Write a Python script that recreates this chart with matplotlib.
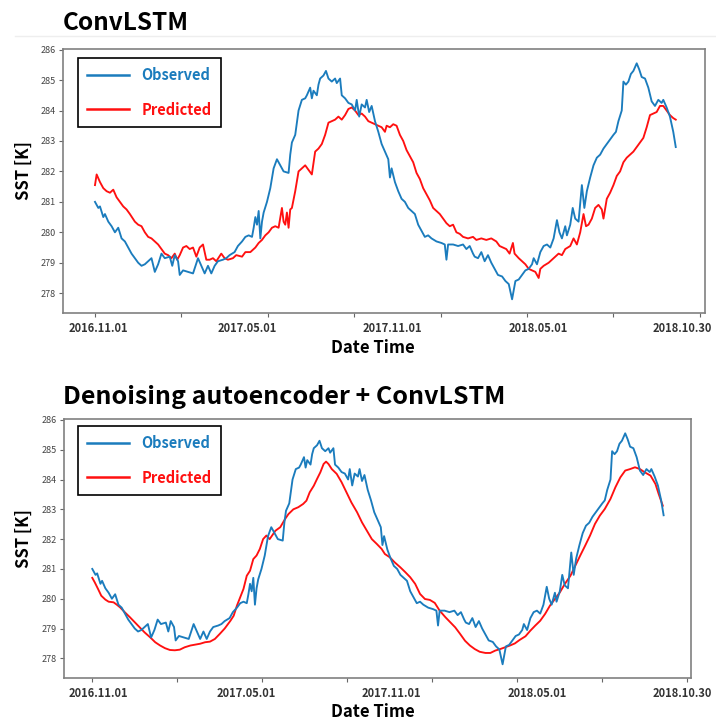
import matplotlib
matplotlib.use('Agg')
import matplotlib.pyplot as plt
from matplotlib.lines import Line2D

plt.rcParams['font.family'] = ['Noto Sans CJK KR', 'DejaVu Sans']

# ---------------- data: (days since 2016-11-01, SST in K) ----------------
observed = [
    (0, 281.0), (4, 280.8), (6, 280.85), (10, 280.5), (12, 280.6), (16, 280.35), (20, 280.2),
    (24, 280.0), (28, 280.15), (32, 279.8), (36, 279.7), (40, 279.5), (44, 279.3), (48, 279.15),
    (52, 279.0), (56, 278.9), (60, 278.95), (64, 279.05), (68, 279.15), (72, 278.7), (76, 278.95),
    (80, 279.3), (84, 279.15), (90, 279.2), (93, 278.9), (96, 279.25), (100, 279.05), (102, 278.6),
    (106, 278.75), (112, 278.7), (118, 278.65), (124, 279.15), (128, 278.9), (132, 278.65),
    (136, 278.9), (140, 278.65), (144, 278.9), (148, 279.05), (154, 279.1), (158, 279.15),
    (162, 279.25), (168, 279.35), (172, 279.55), (177, 279.7), (181, 279.85), (185, 279.9),
    (189, 279.85), (191, 280.15), (193, 280.5), (195, 280.25), (197, 280.7), (199, 279.8),
    (201, 280.35), (203, 280.65), (207, 281.0), (211, 281.45), (215, 282.1), (219, 282.4),
    (223, 282.2), (227, 282.0), (233, 281.95), (235, 282.55), (237, 282.95), (241, 283.2),
    (245, 284.0), (249, 284.35), (253, 284.4), (255, 284.5), (259, 284.75), (261, 284.4),
    (263, 284.65), (267, 284.5), (269, 284.85), (271, 285.05), (275, 285.15), (278, 285.3),
    (281, 285.05), (285, 284.95), (289, 285.05), (291, 284.9), (295, 285.05), (297, 284.5),
    (301, 284.4), (305, 284.25), (309, 284.2), (313, 284.0), (315, 284.35), (318, 283.8),
    (321, 284.2), (325, 284.1), (327, 284.35), (330, 283.95), (333, 284.15), (337, 283.65),
    (341, 283.3), (345, 282.9), (349, 282.65), (353, 282.4), (355, 281.8), (357, 282.1),
    (361, 281.65), (365, 281.35), (369, 281.1), (373, 281.0), (377, 280.8), (381, 280.7),
    (385, 280.6), (389, 280.25), (393, 280.05), (397, 279.85), (401, 279.9), (405, 279.8),
    (411, 279.7), (417, 279.65), (421, 279.6), (423, 279.1), (425, 279.6), (431, 279.6),
    (437, 279.55), (443, 279.6), (447, 279.45), (451, 279.55), (455, 279.3), (457, 279.2),
    (461, 279.15), (465, 279.35), (469, 279.05), (473, 279.25), (477, 279.0), (481, 278.8),
    (485, 278.6), (490, 278.55), (494, 278.4), (498, 278.3), (502, 277.8), (506, 278.4),
    (510, 278.45), (514, 278.6), (518, 278.75), (522, 278.8), (526, 278.95), (528, 279.15),
    (532, 278.95), (536, 279.35), (540, 279.55), (544, 279.6), (548, 279.5), (552, 279.8),
    (556, 280.4), (559, 280.0), (562, 279.8), (566, 280.2), (568, 279.9), (572, 280.25),
    (575, 280.8), (578, 280.45), (582, 280.35), (586, 281.55), (589, 280.8), (592, 281.35),
    (596, 281.8), (600, 282.2), (604, 282.45), (608, 282.55), (612, 282.75), (616, 282.9),
    (620, 283.05), (624, 283.2), (627, 283.3), (630, 283.65), (634, 284.0), (636, 284.95),
    (639, 284.85), (642, 284.95), (645, 285.2), (648, 285.3), (652, 285.55), (655, 285.35),
    (658, 285.1), (662, 285.05), (666, 284.75), (670, 284.3), (674, 284.15), (678, 284.35),
    (682, 284.25), (684, 284.35), (688, 284.1), (692, 283.8), (696, 283.3), (699, 282.8),
]

pred_convlstm = [
    (0, 281.55), (2, 281.9), (6, 281.65), (10, 281.45), (14, 281.35), (18, 281.3), (22, 281.4),
    (26, 281.15), (30, 281.0), (34, 280.85), (38, 280.75), (42, 280.6), (48, 280.35),
    (52, 280.25), (56, 280.2), (60, 280.0), (64, 279.85), (68, 279.8), (72, 279.7), (76, 279.6),
    (80, 279.45), (84, 279.3), (88, 279.25), (92, 279.15), (96, 279.3), (99, 279.1),
    (102, 279.25), (106, 279.5), (110, 279.55), (114, 279.45), (118, 279.5), (122, 279.2),
    (126, 279.5), (130, 279.6), (134, 279.1), (138, 279.1), (142, 279.15), (146, 279.05),
    (152, 279.3), (156, 279.15), (160, 279.1), (166, 279.15), (170, 279.25), (177, 279.2),
    (181, 279.35), (187, 279.35), (193, 279.5), (197, 279.65), (201, 279.75), (205, 279.9),
    (209, 280.0), (213, 280.15), (217, 280.2), (221, 280.15), (225, 280.8), (227, 280.35),
    (229, 280.25), (231, 280.65), (233, 280.15), (235, 280.75), (237, 280.8), (241, 281.35),
    (245, 282.0), (249, 282.1), (253, 282.2), (257, 282.05), (261, 281.9), (265, 282.65),
    (269, 282.75), (273, 282.9), (277, 283.2), (281, 283.6), (285, 283.65), (289, 283.7),
    (293, 283.8), (297, 283.7), (301, 283.85), (305, 284.05), (309, 284.1), (313, 284.0),
    (317, 283.85), (321, 283.9), (325, 283.8), (329, 283.65), (333, 283.6), (337, 283.55),
    (341, 283.5), (345, 283.45), (349, 283.3), (351, 283.5), (355, 283.45), (359, 283.55),
    (363, 283.5), (367, 283.2), (371, 283.0), (375, 282.7), (379, 282.5), (383, 282.3),
    (387, 281.95), (391, 281.75), (395, 281.45), (399, 281.25), (403, 281.05), (407, 280.8),
    (411, 280.7), (415, 280.6), (419, 280.45), (423, 280.3), (427, 280.2), (431, 280.25),
    (435, 280.0), (439, 279.95), (443, 279.85), (449, 279.8), (455, 279.85), (459, 279.75),
    (465, 279.8), (471, 279.75), (477, 279.8), (483, 279.7), (487, 279.55), (491, 279.5),
    (495, 279.45), (499, 279.3), (503, 279.65), (505, 279.3), (510, 279.15), (514, 279.05),
    (518, 278.95), (522, 278.8), (526, 278.75), (530, 278.7), (534, 278.5), (536, 278.8),
    (540, 278.9), (546, 279.0), (552, 279.15), (558, 279.3), (562, 279.25), (566, 279.45),
    (572, 279.55), (576, 279.8), (580, 279.6), (584, 280.0), (588, 280.6), (591, 280.2),
    (594, 280.25), (598, 280.45), (602, 280.8), (606, 280.9), (610, 280.75), (612, 280.45),
    (616, 281.1), (620, 281.3), (624, 281.55), (628, 281.85), (632, 282.0), (636, 282.3),
    (640, 282.45), (644, 282.55), (648, 282.65), (652, 282.8), (656, 282.95), (660, 283.1),
    (664, 283.45), (668, 283.85), (672, 283.9), (676, 283.95), (680, 284.15), (684, 284.15),
    (688, 284.0), (692, 283.85), (696, 283.75), (699, 283.7),
]

pred_dae = [
    (0, 280.7), (3, 280.55), (7, 280.33), (11, 280.1), (16, 279.97), (20, 279.9), (26, 279.88),
    (30, 279.8), (34, 279.71), (40, 279.54), (46, 279.38), (52, 279.21), (58, 279.04),
    (64, 278.87), (71, 278.7), (77, 278.54), (83, 278.43), (89, 278.34), (95, 278.28),
    (101, 278.27), (107, 278.29), (113, 278.37), (120, 278.43), (126, 278.46), (132, 278.49),
    (138, 278.54), (144, 278.56), (150, 278.65), (156, 278.82), (162, 279.0), (169, 279.26),
    (173, 279.43), (177, 279.77), (181, 280.05), (185, 280.33), (189, 280.77), (193, 280.94),
    (197, 281.33), (201, 281.45), (205, 281.67), (209, 282.0), (213, 282.12), (217, 282.0),
    (224, 282.28), (230, 282.4), (236, 282.68), (240, 282.84), (246, 283.0), (252, 283.07),
    (258, 283.18), (262, 283.29), (266, 283.57), (271, 283.79), (275, 284.02), (279, 284.24),
    (283, 284.52), (286, 284.6), (289, 284.52), (293, 284.35), (299, 284.19), (305, 283.91),
    (311, 283.57), (317, 283.23), (324, 282.9), (330, 282.56), (336, 282.28), (342, 282.0),
    (348, 281.84), (354, 281.67), (358, 281.5), (364, 281.39), (370, 281.22), (377, 281.05),
    (383, 280.89), (389, 280.72), (395, 280.5), (401, 280.16), (407, 279.99), (413, 279.96),
    (419, 279.86), (425, 279.6), (432, 279.38), (438, 279.21), (444, 279.04), (450, 278.82),
    (456, 278.59), (462, 278.43), (468, 278.31), (474, 278.22), (481, 278.18), (487, 278.18),
    (493, 278.26), (499, 278.31), (505, 278.37), (511, 278.43), (517, 278.5), (523, 278.62),
    (530, 278.74), (536, 278.93), (542, 279.1), (548, 279.26), (554, 279.49), (560, 279.77),
    (566, 279.99), (572, 280.21), (578, 280.49), (585, 280.77), (591, 281.11), (597, 281.45),
    (603, 281.78), (609, 282.12), (615, 282.51), (621, 282.79), (627, 283.01), (634, 283.35),
    (640, 283.74), (646, 284.07), (652, 284.3), (658, 284.35), (664, 284.41), (670, 284.35),
    (676, 284.24), (683, 284.13), (689, 283.85), (693, 283.51), (698, 283.12),
]

obs_day = [d for d, v in observed]
obs_val = [v for d, v in observed]
convlstm_day = [d for d, v in pred_convlstm]
convlstm_val = [v for d, v in pred_convlstm]
dae_day = [d for d, v in pred_dae]
dae_val = [v for d, v in pred_dae]

titles = ['ConvLSTM', 'Denoising autoencoder + ConvLSTM']
date_labels = ['2016.11.01', '2017.05.01', '2017.11.01', '2018.05.01', '2018.10.30']
y_ticks = [278, 279, 280, 281, 282, 283, 284, 285, 286]
series_names = ['Observed', 'Predicted']

# ---------------- style / layout ----------------
W, H = 716, 721
BLUE = '#1b7cbd'
RED = '#ff1010'
fig = plt.figure(figsize=(W / 100, H / 100), dpi=100)

minor_days = [0, 104, 208, 312, 416, 520, 624, 728]

panels = [
    dict(box=(63, 49, 705, 313), xlim=(-38.5, 734.2), ylim=(277.35, 286.02),
         label_days=[4, 183, 358, 533, 707], pred_day=convlstm_day, pred_val=convlstm_val,
         leg=(78, 58), title_y=30, title_size=17.5, xlab_y=348, ylab_y=171),
    dict(box=(64, 419, 691, 678), xlim=(-34.6, 732.5), ylim=(277.34, 286.03),
         label_days=[7, 188, 366, 545, 722], pred_day=dae_day, pred_val=dae_val,
         leg=(78, 426), title_y=404, title_size=18, xlab_y=712, ylab_y=539),
]

for i, p in enumerate(panels):
    l, t, r, b = p['box']
    ax = fig.add_axes([l / W, 1 - b / H, (r - l) / W, (b - t) / H])
    ax.plot(obs_day, obs_val, color=BLUE, lw=1.35, zorder=3)
    ax.plot(p['pred_day'], p['pred_val'], color=RED, lw=1.35, zorder=2)
    ax.set_xlim(*p['xlim'])
    ax.set_ylim(*p['ylim'])
    ax.set_yticks(y_ticks)
    ax.set_yticklabels([str(v) for v in y_ticks])
    ax.tick_params(axis='y', direction='out', length=3, width=0.8, colors='#666666',
                   labelsize=6.5, labelcolor='#444444', pad=2)
    ax.set_xticks(p['label_days'])
    ax.set_xticklabels(date_labels, fontweight='bold')
    ax.tick_params(axis='x', which='major', length=0, labelsize=8, labelcolor='#333333', pad=6.5)
    ax.set_xticks(minor_days, minor=True)
    ax.tick_params(axis='x', which='minor', direction='out', length=3, width=0.8, colors='#666666')
    for s in ax.spines.values():
        s.set_color('#808080')
        s.set_linewidth(1.2)

    handles = [Line2D([], [], color=BLUE, lw=1.8), Line2D([], [], color=RED, lw=1.8)]
    lx, ly = p['leg']
    leg = ax.legend(handles, series_names, loc='upper left',
                    bbox_to_anchor=((lx - l) / (r - l), (b - ly) / (b - t)),
                    borderaxespad=0, frameon=True, fancybox=False, framealpha=1,
                    edgecolor='black', handlelength=2.9, handletextpad=0.85,
                    labelspacing=1.27, borderpad=0.62,
                    prop={'weight': 'bold', 'size': 10.5}, labelcolor='linecolor')
    leg.get_frame().set_linewidth(1.2)

    fig.text(63 / W, 1 - p['title_y'] / H, titles[i], fontsize=p['title_size'],
             fontweight='bold', ha='left', va='baseline', color='black')
    fig.text(373 / W, 1 - p['xlab_y'] / H, 'Date Time', fontsize=12, fontweight='bold',
             ha='center', va='center')
    fig.text(23.5 / W, 1 - p['ylab_y'] / H, 'SST [K]', fontsize=12, fontweight='bold',
             ha='center', va='center', rotation=90)

fig.add_artist(Line2D([15 / W, 1.0], [1 - 36 / H, 1 - 36 / H], color='#eeeeee', lw=1,
                      transform=fig.transFigure))

fig.savefig('out.png', dpi=100)
